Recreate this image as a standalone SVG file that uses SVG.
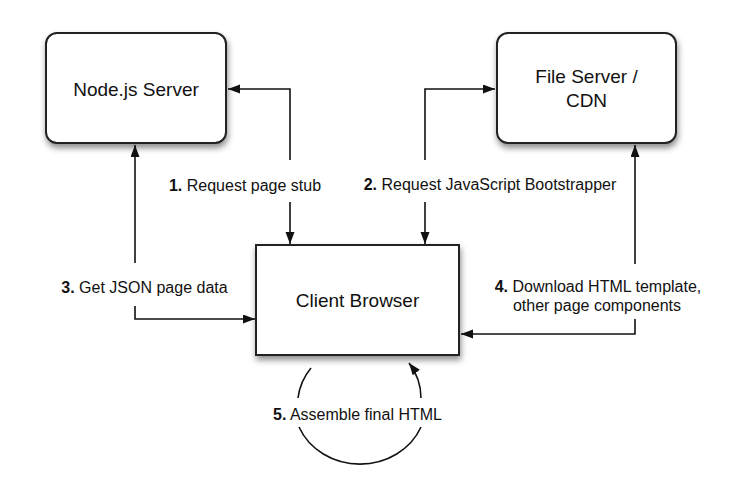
<svg xmlns="http://www.w3.org/2000/svg" width="754" height="504" viewBox="0 0 754 504">
<defs>
<marker id="ah" markerUnits="userSpaceOnUse" markerWidth="13" markerHeight="10" refX="12" refY="4.5" orient="auto">
<path d="M0,0 L12,4.5 L0,9 z" fill="#111"/>
</marker>
<filter id="sh" x="-10%" y="-10%" width="125%" height="130%">
<feDropShadow dx="1" dy="4" stdDeviation="3" flood-color="#000" flood-opacity="0.45"/>
</filter>
<style>
.box{fill:#fff;stroke:#222;stroke-width:2;filter:url(#sh)}
.nt{font-family:"Liberation Sans",Arial,sans-serif;font-size:19px;fill:#111;text-anchor:middle}
.lb{font-family:"Liberation Sans",Arial,sans-serif;font-size:16px;fill:#111;text-anchor:middle}
.lb .b{font-weight:bold}
.cn{fill:none;stroke:#111;stroke-width:1.6}
.cn.a{marker-end:url(#ah)}
</style>
</defs>
<rect width="754" height="504" fill="#fff"/>
<g id="node-js-server">
<rect class="box" x="46" y="33" width="180" height="110" rx="11" ry="11"/>
<text class="nt" x="136" y="96">Node.js Server</text>
</g>
<g id="file-server-cdn">
<rect class="box" x="497" y="33" width="179" height="110" rx="11" ry="11"/>
<text class="nt" x="586.5" y="83">File Server /</text>
<text class="nt" x="586.5" y="107">CDN</text>
</g>
<g id="client-browser">
<rect class="box" x="256" y="245" width="203" height="110"/>
<text class="nt" x="357.5" y="307">Client Browser</text>
</g>
<g id="connectors">
<path class="cn a" d="M290,160 L290,89 L228,89"/>
<path class="cn a" d="M290,202 L290,244"/>
<path class="cn a" d="M425,160 L425,89 L495,89"/>
<path class="cn a" d="M425,202 L425,244"/>
<path class="cn a" d="M135,263 L135,145"/>
<path class="cn a" d="M135,306 L135,319 L255,319"/>
<path class="cn a" d="M635,264 L635,145"/>
<path class="cn a" d="M635,319 L635,334 L461,334"/>
<path class="cn" d="M311,368 A64,60 0 0 0 298,398"/>
<path class="cn" d="M299,427 A66,60 0 0 0 421,427"/>
<path class="cn a" d="M421,398 A64,60 0 0 0 409,363"/>
</g>
<g id="labels">
<text class="lb" x="245" y="191"><tspan class="b">1.</tspan> Request page stub</text>
<text class="lb" x="490" y="190"><tspan class="b">2.</tspan> Request JavaScript Bootstrapper</text>
<text class="lb" x="144.5" y="293"><tspan class="b">3.</tspan> Get JSON page data</text>
<text class="lb" x="598" y="292"><tspan class="b">4.</tspan> Download HTML template,</text>
<text class="lb" x="597" y="311">other page components</text>
<text class="lb" x="357.5" y="420"><tspan class="b">5.</tspan> Assemble final HTML</text>
</g>
</svg>
